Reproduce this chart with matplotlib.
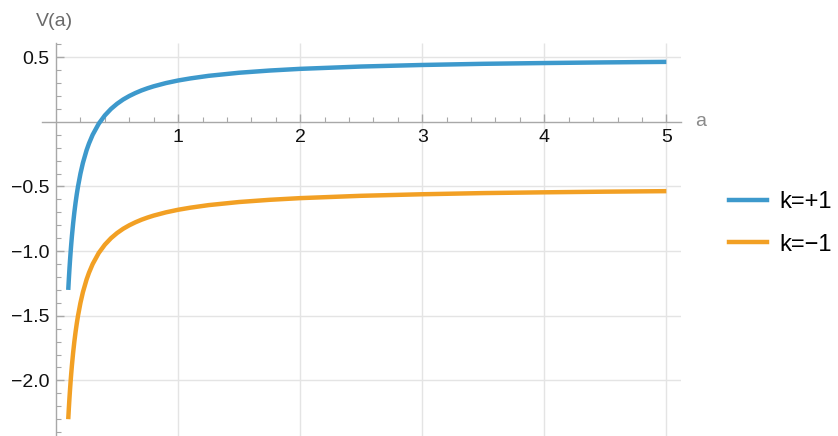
import matplotlib
matplotlib.use("Agg")
import matplotlib.pyplot as plt
from matplotlib.lines import Line2D

# Scale factor a and the potential V(a) for the two curvature cases
a_vals = [0.100, 0.105, 0.110, 0.115, 0.120, 0.125, 0.130, 0.140, 0.150,
          0.160, 0.170, 0.180, 0.200, 0.220, 0.250, 0.270, 0.300, 0.350,
          0.400, 0.450, 0.500, 0.550, 0.600, 0.650, 0.700, 0.750, 0.800,
          0.900, 1.000, 1.100, 1.250, 1.500, 1.750, 2.000, 2.500, 3.000,
          3.500, 4.000, 4.500, 5.000]
v_plus = [-1.300, -1.214, -1.136, -1.065, -1.000, -0.940, -0.885, -0.786,
          -0.700, -0.625, -0.559, -0.500, -0.400, -0.318, -0.220, -0.167,
          -0.100, -0.014, 0.050, 0.100, 0.140, 0.173, 0.200, 0.223, 0.243,
          0.260, 0.275, 0.300, 0.320, 0.336, 0.356, 0.380, 0.397, 0.410,
          0.428, 0.440, 0.449, 0.455, 0.460, 0.464]
v_minus = [-2.300, -2.214, -2.136, -2.065, -2.000, -1.940, -1.885, -1.786,
           -1.700, -1.625, -1.559, -1.500, -1.400, -1.318, -1.220, -1.167,
           -1.100, -1.014, -0.950, -0.900, -0.860, -0.827, -0.800, -0.777,
           -0.757, -0.740, -0.725, -0.700, -0.680, -0.664, -0.644, -0.620,
           -0.603, -0.590, -0.572, -0.560, -0.551, -0.545, -0.540, -0.536]

series_labels = ["k=+1", "k=\u22121"]
x_ticks = [1, 2, 3, 4, 5]
x_tick_labels = ["1", "2", "3", "4", "5"]
y_ticks = [0.5, -0.5, -1.0, -1.5, -2.0]
y_tick_labels = ["0.5", "\u22120.5", "\u22121.0", "\u22121.5", "\u22122.0"]

BLUE = "#3d99cc"
ORANGE = "#f2a024"
AXIS_GRAY = "#a8a8a8"
GRID_GRAY = "#e4e4e4"

plt.rcParams["font.family"] = ["Liberation Sans", "DejaVu Sans"]

W, H = 838, 436
fig = plt.figure(figsize=(W / 100, H / 100), dpi=100)

# axes box in pixel units
left_px, right_px, top_px, bottom_px = 42, 681, 43, 436
ax = fig.add_axes([left_px / W, 1 - bottom_px / H,
                   (right_px - left_px) / W, (bottom_px - top_px) / H])

xmin, xmax = -0.115, 5.12
ymin, ymax = -2.43, 0.61
ax.set_xlim(xmin, xmax)
ax.set_ylim(ymin, ymax)

# light grid, starting at the axes origin
ax.hlines(y_ticks, 0, xmax, colors=GRID_GRAY, linewidth=1.0, zorder=0)
ax.vlines(x_ticks, ymin, ymax, colors=GRID_GRAY, linewidth=1.0, zorder=0)

ax.plot(a_vals, v_plus, color=BLUE, linewidth=3.2, solid_capstyle="butt",
        solid_joinstyle="round", zorder=3)
ax.plot(a_vals, v_minus, color=ORANGE, linewidth=3.2, solid_capstyle="butt",
        solid_joinstyle="round", zorder=3)

# axes through the origin
for side in ("top", "right"):
    ax.spines[side].set_visible(False)
ax.spines["left"].set_position(("data", 0))
ax.spines["bottom"].set_position(("data", 0))
for side in ("left", "bottom"):
    ax.spines[side].set_color(AXIS_GRAY)
    ax.spines[side].set_linewidth(1.0)

ax.set_xticks(x_ticks)
ax.set_xticklabels(x_tick_labels)
ax.set_xticks([i * 0.2 for i in range(1, 26) if i % 5 != 0], minor=True)
ax.set_yticks(y_ticks)
ax.set_yticklabels(y_tick_labels)
ax.set_yticks([round(0.6 - i * 0.1, 2) for i in range(31)
               if round((0.6 - i * 0.1) * 10) % 5 != 0], minor=True)

ax.tick_params(which="both", direction="in", color=AXIS_GRAY, labelsize=14,
               labelcolor="#111111")
ax.tick_params(which="major", length=6, width=1.0, pad=5)
ax.tick_params(which="minor", length=3.5, width=0.8)
ax.tick_params(axis="x", which="major", pad=5)

# axis labels
ax.text(5.28, 0.0, "a", color="#8a8a8a", fontsize=14, ha="center",
        va="center", clip_on=False)
ax.annotate("V(a)", xy=(0, 1), xycoords=("data", "axes fraction"),
            xytext=(-2, 21), textcoords="offset pixels", color="#6a6a6a",
            fontsize=14, ha="center", va="center", annotation_clip=False)

handles = [Line2D([], [], color=BLUE, linewidth=3.2),
           Line2D([], [], color=ORANGE, linewidth=3.2)]
fig.legend(handles, series_labels, loc="center left",
           bbox_to_anchor=(729 / W, 1 - 223.5 / H), frameon=False,
           fontsize=17, handlelength=1.6, handletextpad=0.55,
           labelspacing=0.85, borderpad=0, borderaxespad=0)

fig.savefig("out.png", dpi=100)
